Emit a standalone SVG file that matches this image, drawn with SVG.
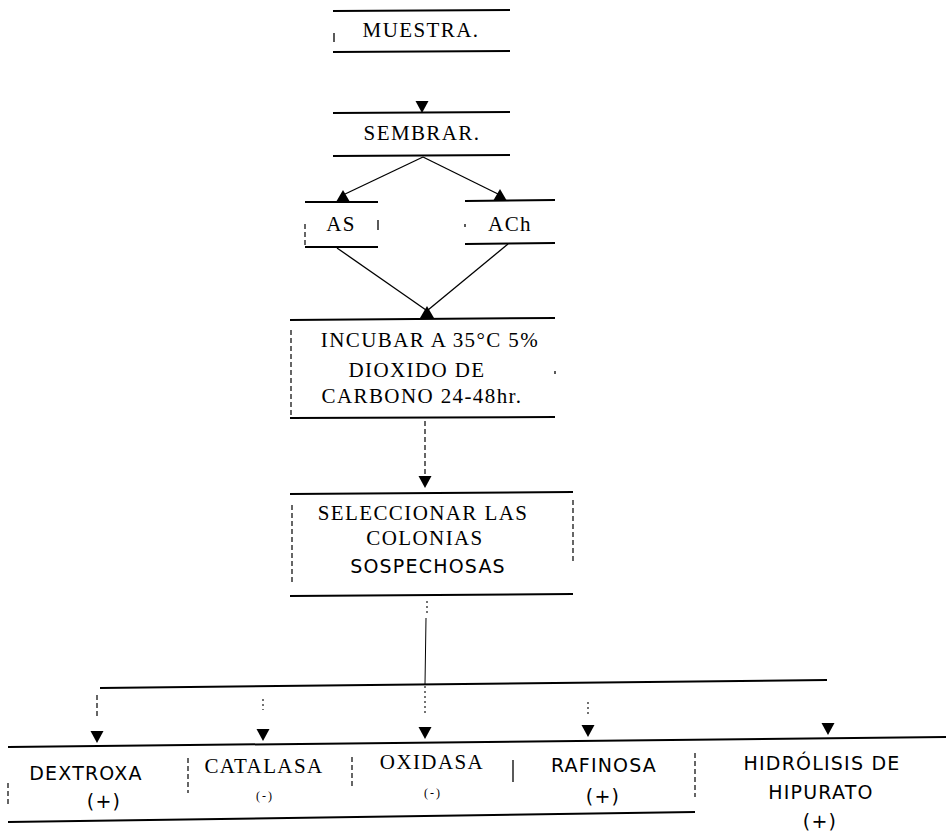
<svg xmlns="http://www.w3.org/2000/svg" width="946" height="839" viewBox="0 0 946 839">
<style>
.bg{fill:#fff}
.edge{stroke:#000;stroke-width:2;fill:none}
.thin{stroke:#000;stroke-width:1.3;fill:none}
.hair{stroke:#000;stroke-width:1;fill:none}
.dash{stroke:#000;stroke-width:1.2;fill:none;stroke-dasharray:5 3}
.dot{stroke:#000;stroke-width:1.1;fill:none;stroke-dasharray:2 3}
.serif{font-family:"Liberation Serif","Times New Roman",serif;font-size:21px;fill:#000;text-anchor:middle;letter-spacing:1.4px}
.sans{font-family:"DejaVu Sans",Verdana,sans-serif;font-size:19px;fill:#000;text-anchor:middle;letter-spacing:1.2px}
.small{font-family:"Liberation Serif",serif;font-size:12px;fill:#000;text-anchor:middle;letter-spacing:2px}
</style>
<defs>
<path id="down" d="M-6.5,0 L6.5,0 L0,12 Z" fill="#000"/>
<path id="up" d="M0,0 L7,12 L-7,12 Z" fill="#000"/>
</defs>
<rect class="bg" width="946" height="839"/>

<g id="connectors">
<use href="#down" x="422" y="101"/>
<path class="thin" d="M423,157 L343,195"/>
<path class="thin" d="M423,157 L500,195"/>
<use href="#up" x="343" y="190"/>
<use href="#up" x="500" y="189"/>
<path class="thin" d="M337,248 L426,310"/>
<path class="thin" d="M508,244 L428,310"/>
<use href="#up" x="427" y="306"/>
<path class="dash" d="M425,421 L425,474"/>
<use href="#down" x="425" y="476"/>
<path class="dot" d="M427,601 L427,613"/>
<path class="hair" d="M426,618 L425,684"/>
<path class="edge" d="M100,688 L827,680"/>
<path class="dash" d="M97,695 L97,716"/>
<use href="#down" x="97" y="731"/>
<path class="dot" d="M263,699 L263,710"/>
<use href="#down" x="263" y="729"/>
<path class="dot" d="M425,686 L425,714"/>
<use href="#down" x="425" y="727"/>
<path class="dot" d="M588,702 L588,716"/>
<use href="#down" x="588" y="725"/>
<use href="#down" x="828" y="723"/>
</g>

<g id="muestra">
<path class="edge" d="M333,11 L510,10"/>
<path class="edge" d="M333,52 L510,51"/>
<path class="thin" d="M334,33 L334,42"/>
<text class="serif" x="421" y="37">MUESTRA.</text>
</g>

<g id="sembrar">
<path class="edge" d="M333,113 L510,112"/>
<path class="edge" d="M333,156 L510,155"/>
<text class="serif" x="422" y="140">SEMBRAR.</text>
</g>

<g id="as">
<path class="edge" d="M305,202 L378,202"/>
<path class="edge" d="M305,247 L378,247"/>
<path class="dash" d="M305,224 L305,246"/>
<path class="thin" d="M378,220 L378,230"/>
<text class="serif" x="341" y="231">AS</text>
</g>

<g id="ach">
<path class="edge" d="M465,201 L555,200"/>
<path class="edge" d="M465,244 L555,243"/>
<path class="thin" d="M465,224 L465,227"/>
<text class="serif" x="510" y="231">ACh</text>
</g>

<g id="incubar">
<path class="edge" d="M290,320 L555,318"/>
<path class="edge" d="M290,418 L555,417"/>
<path class="dash" d="M291,330 L291,415"/>
<path class="thin" d="M555,371 L555,374"/>
<text class="serif" x="430" y="347">INCUBAR A 35°C 5%</text>
<text class="serif" x="417" y="377">DIOXIDO DE</text>
<text class="serif" x="422" y="403">CARBONO 24-48hr.</text>
</g>

<g id="seleccionar">
<path class="edge" d="M290,494 L573,492"/>
<path class="edge" d="M290,596 L573,594"/>
<path class="dash" d="M292,505 L292,585"/>
<path class="dash" d="M573,500 L573,562"/>
<text class="serif" x="423" y="520">SELECCIONAR LAS</text>
<text class="serif" x="425" y="545">COLONIAS</text>
<text class="sans" x="428" y="573">SOSPECHOSAS</text>
</g>

<g id="pruebas">
<path class="edge" d="M8,747 L946,737"/>
<path class="edge" d="M8,822 L695,812"/>
<path class="dash" d="M8,783 L8,807"/>
<path class="dash" d="M188,758 L188,793"/>
<path class="dash" d="M352,757 L352,787"/>
<path class="thin" d="M513,760 L513,782"/>
<path class="dash" d="M695,753 L695,797"/>
</g>

<g id="dextroxa">
<text class="sans" x="86" y="780">DEXTROXA</text>
<text class="sans" x="104" y="808">(+)</text>
</g>

<g id="catalasa">
<text class="serif" x="264" y="773">CATALASA</text>
<text class="small" x="265" y="800">(-)</text>
</g>

<g id="oxidasa">
<text class="serif" x="432" y="769">OXIDASA</text>
<text class="small" x="433" y="797">(-)</text>
</g>

<g id="rafinosa">
<text class="sans" x="604" y="772">RAFINOSA</text>
<text class="sans" x="603" y="803">(+)</text>
</g>

<g id="hidrolisis">
<text class="sans" x="822" y="770">HIDRÓLISIS DE</text>
<text class="sans" x="821" y="799">HIPURATO</text>
<text class="sans" x="820" y="828">(+)</text>
</g>
</svg>
